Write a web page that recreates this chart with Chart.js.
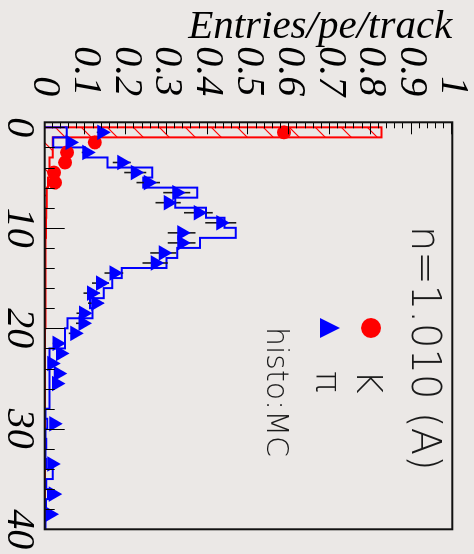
<!DOCTYPE html>
<html><head><meta charset="utf-8">
<script src="https://cdn.jsdelivr.net/npm/chart.js@4/dist/chart.umd.min.js"></script>
<style>
html,body{margin:0;padding:0;background:#ebe8e6;overflow:hidden;width:474px;height:554px;}
#wrap{position:absolute;left:0;top:0;width:554px;height:474px;transform-origin:0 0;transform:translate(474px,0) rotate(90deg);}
canvas{display:block;}
</style></head><body>
<div id="wrap"><canvas id="c" width="554" height="474"></canvas></div>
<script>
// ---- data (bins of 1 photo-electron) ----
const peBinEdges = [0,1,2,3,4,5,6,7,8,9,10,11,12,13,14,15,16,17,18,19,20,21,22,23,24,25,26,27,28,29,30,31,32,33,34,35,36,37,38,39,40];
const kaonMC = [0.826,0.020,0.020,0.012,0.012,0.008,0.005,0.005,0.004,0.003,0.003,0.002,0.002,0.002,0.002,0.002,0.002,0.002,0.002,0.002,
                0.001,0.001,0.001,0.001,0.001,0.001,0.001,0.001,0.001,0.001,0.001,0.001,0.001,0.001,0.001,0.001,0.001,0.001,0.001,0.001];
const pionMC = [0.054,0.021,0.099,0.154,0.264,0.242,0.374,0.320,0.396,0.441,0.469,0.381,0.325,0.299,0.189,0.166,0.145,0.111,0.117,0.056,
                0.050,0.050,0.012,0.012,0.012,0.012,0.012,0.012,0.002,0.006,0.002,0.004,0.002,0.004,0.020,0.004,0.008,0.003,0.004,0.002];
const kaonData = [0.587,0.123,0.055,0.050,0.023,0.025,null,null,null,null,null,null,null,null,null,null,null,null,null,null,
                  null,null,null,null,null,null,null,null,null,null,null,null,null,null,null,null,null,null,null,null];
const pionData = [0.140,0.062,0.103,0.189,0.222,0.254,0.324,0.303,0.377,0.432,0.336,0.336,0.291,0.271,0.170,0.137,0.115,0.125,0.095,0.094,
                  0.074,0.030,0.039,0.017,0.033,0.029,null,null,null,0.022,null,null,null,0.017,null,null,0.021,null,0.013,null];
const pionErr  = [0.012,0.009,0.012,0.022,0.027,0.029,0.033,0.031,0.035,0.038,0.034,0.034,0.032,0.031,0.023,0.021,0.020,0.019,0.017,0.017,
                  0.015,0.010,0.011,0.008,0.010,0.010,null,null,null,0.009,null,null,null,0.008,null,null,0.009,null,0.007,null];
const xTicks = [0,10,20,30,40];
const xTickLabels = ['0','10','20','30','40'];
const yTicks = [0,0.1,0.2,0.3,0.4,0.5,0.6,0.7,0.8,0.9,1];
const yTickLabels = ['0','0.1','0.2','0.3','0.4','0.5','0.6','0.7','0.8','0.9','1'];
const yTitle = 'Entries/pe/track';
const legendHeader = 'n=1.010 (A)';
const legendEntries = ['K','\u03c0','histo:MC'];

// ---- helpers ----
function stepPoints(vals){
  const pts=[{x:peBinEdges[0],y:0}];
  vals.forEach((v,i)=>pts.push({x:peBinEdges[i],y:v}));
  pts.push({x:peBinEdges[vals.length],y:0});
  return pts;
}
function center(i){ return (peBinEdges[i]+peBinEdges[i+1])/2; }
function markerPoints(vals){
  const pts=[]; vals.forEach((v,i)=>{ if(v!==null) pts.push({x:center(i),y:v}); }); return pts;
}
function errPoints(vals,errs){
  const pts=[]; vals.forEach((v,i)=>{ if(v!==null){ const c=center(i);
    pts.push({x:c,y:v-errs[i]},{x:c,y:v+errs[i]},{x:c,y:null}); } }); return pts;
}
function hatch(){
  const s=26, c=document.createElement('canvas'); c.width=s; c.height=s;
  const g=c.getContext('2d'); g.strokeStyle='#ff0000'; g.lineWidth=1.2;
  g.beginPath(); g.moveTo(-2,s+2); g.lineTo(s+2,-2);
  g.moveTo(-2,2); g.lineTo(2,-2); g.moveTo(s-2,s+2); g.lineTo(s+2,s-2); g.stroke();
  return document.getElementById('c').getContext('2d').createPattern(c,'repeat');
}
function noPad(s){ s.paddingTop=0; s.paddingBottom=0; s.paddingLeft=0; s.paddingRight=0; }

const RED='#ff0000', BLUE='#0000ff';
const serif='"Liberation Serif","Times New Roman",serif';
const thin='"DejaVu Sans"';

const frame = {
  id:'frame',
  afterDatasetsDraw(chart){
    const {ctx, chartArea:a, scales:{x,y}} = chart;
    ctx.save();
    ctx.strokeStyle='#000'; ctx.lineWidth=1;
    ctx.beginPath();
    for(let k=0;k<xTicks.length;k++){
      const v=xTicks[k], px=Math.round(x.getPixelForValue(v))+0.5;
      ctx.moveTo(px,a.bottom); ctx.lineTo(px,a.bottom-20);
      if(k<xTicks.length-1){ const step=(xTicks[k+1]-v)/5;
        for(let j=1;j<5;j++){ const p=Math.round(x.getPixelForValue(v+j*step))+0.5; ctx.moveTo(p,a.bottom); ctx.lineTo(p,a.bottom-10); } }
    }
    for(let k=0;k<yTicks.length;k++){
      const v=yTicks[k], py=Math.round(y.getPixelForValue(v))+0.5;
      ctx.moveTo(a.left,py); ctx.lineTo(a.left+12,py);
      if(k<yTicks.length-1){ const step=(yTicks[k+1]-v)/5;
        for(let j=1;j<5;j++){ const p=Math.round(y.getPixelForValue(v+j*step))+0.5; ctx.moveTo(a.left,p); ctx.lineTo(a.left+6,p); } }
    }
    ctx.stroke();
    ctx.lineWidth=2; ctx.strokeStyle='#111';
    ctx.strokeRect(a.left,a.top,a.right-a.left,a.bottom-a.top);
    ctx.restore();
  },
  afterDraw(chart){
    const ctx=chart.ctx; ctx.save();
    ctx.fillStyle='#1a1a1a'; ctx.textBaseline='alphabetic'; ctx.textAlign='left';
    ctx.font='200 40px '+thin; ctx.fillText(legendHeader,226,62);
    ctx.fillStyle=RED; ctx.beginPath(); ctx.arc(328,103,10,0,Math.PI*2); ctx.fill();
    ctx.fillStyle='#1a1a1a'; ctx.font='200 36px '+thin; ctx.fillText(legendEntries[0],370,117);
    ctx.fillStyle=BLUE; ctx.beginPath(); ctx.moveTo(328,134); ctx.lineTo(338,154); ctx.lineTo(318,154); ctx.closePath(); ctx.fill();
    ctx.fillStyle='#1a1a1a'; ctx.font='200 36px '+thin; ctx.fillText(legendEntries[1],371,158);
    ctx.font='200 30px '+thin; ctx.fillText(legendEntries[2],327,207);
    ctx.restore();
  }
};

new Chart(document.getElementById('c'), {
  type:'line',
  data:{ datasets:[
    {label:'K MC', data:stepPoints(kaonMC), stepped:'before', borderColor:RED, borderWidth:2,
     backgroundColor:hatch(), fill:'origin', pointRadius:0, order:10},
    {label:'pi MC', data:stepPoints(pionMC), stepped:'before', borderColor:BLUE, borderWidth:2,
     fill:false, pointRadius:0, order:9},
    {label:'pi err', data:errPoints(pionData,pionErr), borderColor:'#1a1a1a', borderWidth:1.6,
     fill:false, pointRadius:0, spanGaps:false, order:5},
    {label:'K', data:markerPoints(kaonData), showLine:false, pointStyle:'circle', pointRadius:7,
     pointBackgroundColor:RED, pointBorderWidth:0, order:2},
    {label:'pi', data:markerPoints(pionData), showLine:false, pointStyle:'triangle', pointRadius:9,
     pointBackgroundColor:BLUE, pointBorderWidth:0, order:1}
  ]},
  options:{
    responsive:false, animation:false, events:[], devicePixelRatio:1,
    layout:{padding:{left:0,right:24.7,top:21.7,bottom:0}},
    plugins:{legend:{display:false}, tooltip:{enabled:false}},
    scales:{
      x:{type:'linear', min:-0.5, max:40,
         afterBuildTicks:s=>{ s.ticks=xTicks.map(v=>({value:v})); },
         afterFit:s=>{ s.height=44.7; noPad(s); },
         grid:{display:false, drawTicks:false}, border:{display:false},
         ticks:{autoSkip:false, maxRotation:0, minRotation:0, padding:6, color:'#000',
                font:{family:serif, size:40, style:'italic', lineHeight:1},
                callback:(v,i)=>xTickLabels[i]}},
      y:{type:'linear', min:0, max:1,
         afterBuildTicks:s=>{ s.ticks=yTicks.map(v=>({value:v})); },
         afterFit:s=>{ s.width=122.3; noPad(s); },
         grid:{display:false, drawTicks:false}, border:{display:false},
         ticks:{autoSkip:false, padding:26, color:'#000',
                font:{family:serif, size:40, style:'italic', lineHeight:1},
                callback:(v,i)=>yTickLabels[i]},
         title:{display:true, text:yTitle, align:'end', color:'#000',
                font:{family:serif, size:41, style:'italic', lineHeight:1.2},
                padding:{top:3,bottom:0}}}
    }
  },
  plugins:[frame]
});
</script>
</body></html>
